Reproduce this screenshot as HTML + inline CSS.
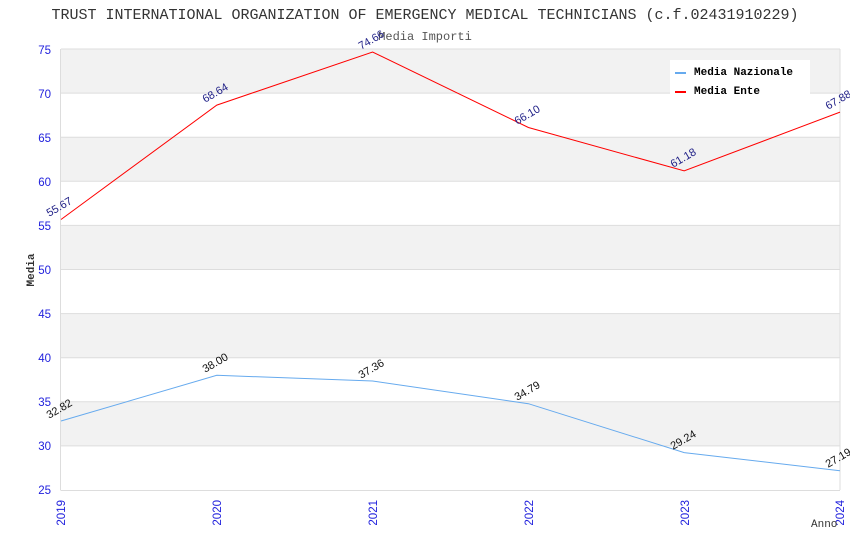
<!DOCTYPE html>
<html><head><meta charset="utf-8"><style>body{margin:0;background:#fff}svg{display:block}</style></head><body>
<svg width="850" height="550" xmlns="http://www.w3.org/2000/svg" font-family="Liberation Sans, sans-serif">
<rect width="850" height="550" fill="#fff"/>
<text x="425" y="19" text-anchor="middle" font-family="Liberation Mono, monospace" font-size="15" fill="#333">TRUST INTERNATIONAL ORGANIZATION OF EMERGENCY MEDICAL TECHNICIANS (c.f.02431910229)</text>
<text x="425" y="40" text-anchor="middle" font-family="Liberation Mono, monospace" font-size="12" fill="#555">Media Importi</text>
<g fill="#f2f2f2">
<rect x="61" y="49" width="779" height="44.1"/>
<rect x="61" y="137.2" width="779" height="44.1"/>
<rect x="61" y="225.4" width="779" height="44.1"/>
<rect x="61" y="313.6" width="779" height="44.1"/>
<rect x="61" y="401.8" width="779" height="44.1"/>
</g>
<g stroke="#ddd" stroke-width="1">
<line x1="61" y1="49" x2="840" y2="49"/><line x1="61" y1="93.1" x2="840" y2="93.1"/><line x1="61" y1="137.2" x2="840" y2="137.2"/><line x1="61" y1="181.3" x2="840" y2="181.3"/><line x1="61" y1="225.4" x2="840" y2="225.4"/><line x1="61" y1="269.5" x2="840" y2="269.5"/><line x1="61" y1="313.6" x2="840" y2="313.6"/><line x1="61" y1="357.7" x2="840" y2="357.7"/><line x1="61" y1="401.8" x2="840" y2="401.8"/><line x1="61" y1="445.9" x2="840" y2="445.9"/>
<line x1="60.5" y1="49" x2="60.5" y2="490"/><line x1="840" y1="49" x2="840" y2="490"/><line x1="60.5" y1="490.5" x2="840" y2="490.5"/>
</g>
<g fill="#2222dd" font-size="11.5" text-anchor="end">
<text x="51" y="54">75</text><text x="51" y="98">70</text><text x="51" y="142">65</text><text x="51" y="186">60</text><text x="51" y="230">55</text><text x="51" y="274">50</text><text x="51" y="318">45</text><text x="51" y="362">40</text><text x="51" y="406">35</text><text x="51" y="450">30</text><text x="51" y="494">25</text>
</g>
<g fill="#2222dd" font-size="11.5" text-anchor="end">
<text transform="translate(65,500) rotate(-90)">2019</text>
<text transform="translate(221,500) rotate(-90)">2020</text>
<text transform="translate(377,500) rotate(-90)">2021</text>
<text transform="translate(533,500) rotate(-90)">2022</text>
<text transform="translate(689,500) rotate(-90)">2023</text>
<text transform="translate(844,500) rotate(-90)">2024</text>
</g>
<text transform="translate(34,270) rotate(-90)" text-anchor="middle" font-family="Liberation Mono, monospace" font-size="11" font-weight="bold" fill="#333">Media</text>
<text x="811" y="527" font-family="Liberation Mono, monospace" font-size="11" fill="#333">Anno</text>
<polyline fill="none" stroke="#ff0000" stroke-width="1" points="61,219.5 216.8,105.1 372.6,52 528.4,127.5 684.2,170.9 840,112.1"/>
<polyline fill="none" stroke="#66aaee" stroke-width="1" points="61,421 216.8,375.3 372.6,381 528.4,403.7 684.2,452.6 840,470.7"/>
<g fill="#222288" font-size="11" text-anchor="middle">
<text transform="translate(61,210) rotate(-30)">55.67</text>
<text transform="translate(217,96) rotate(-30)">68.64</text>
<text transform="translate(373,43) rotate(-30)">74.66</text>
<text transform="translate(529,118) rotate(-30)">66.10</text>
<text transform="translate(685,161) rotate(-30)">61.18</text>
<text transform="translate(840,103) rotate(-30)">67.88</text>
</g>
<g fill="#111" font-size="11" text-anchor="middle">
<text transform="translate(61,412) rotate(-30)">32.82</text>
<text transform="translate(217,366) rotate(-30)">38.00</text>
<text transform="translate(373,372) rotate(-30)">37.36</text>
<text transform="translate(529,394) rotate(-30)">34.79</text>
<text transform="translate(685,443) rotate(-30)">29.24</text>
<text transform="translate(840,461) rotate(-30)">27.19</text>
</g>
<rect x="670" y="60" width="140" height="36" fill="#fff"/>
<rect x="675" y="72" width="11" height="2" fill="#66aaee"/>
<rect x="675" y="91" width="11" height="2" fill="#ff0000"/>
<g font-family="Liberation Mono, monospace" font-size="11" font-weight="bold" fill="#000">
<text x="694" y="75">Media Nazionale</text>
<text x="694" y="94">Media Ente</text>
</g>
</svg>
</body></html>
